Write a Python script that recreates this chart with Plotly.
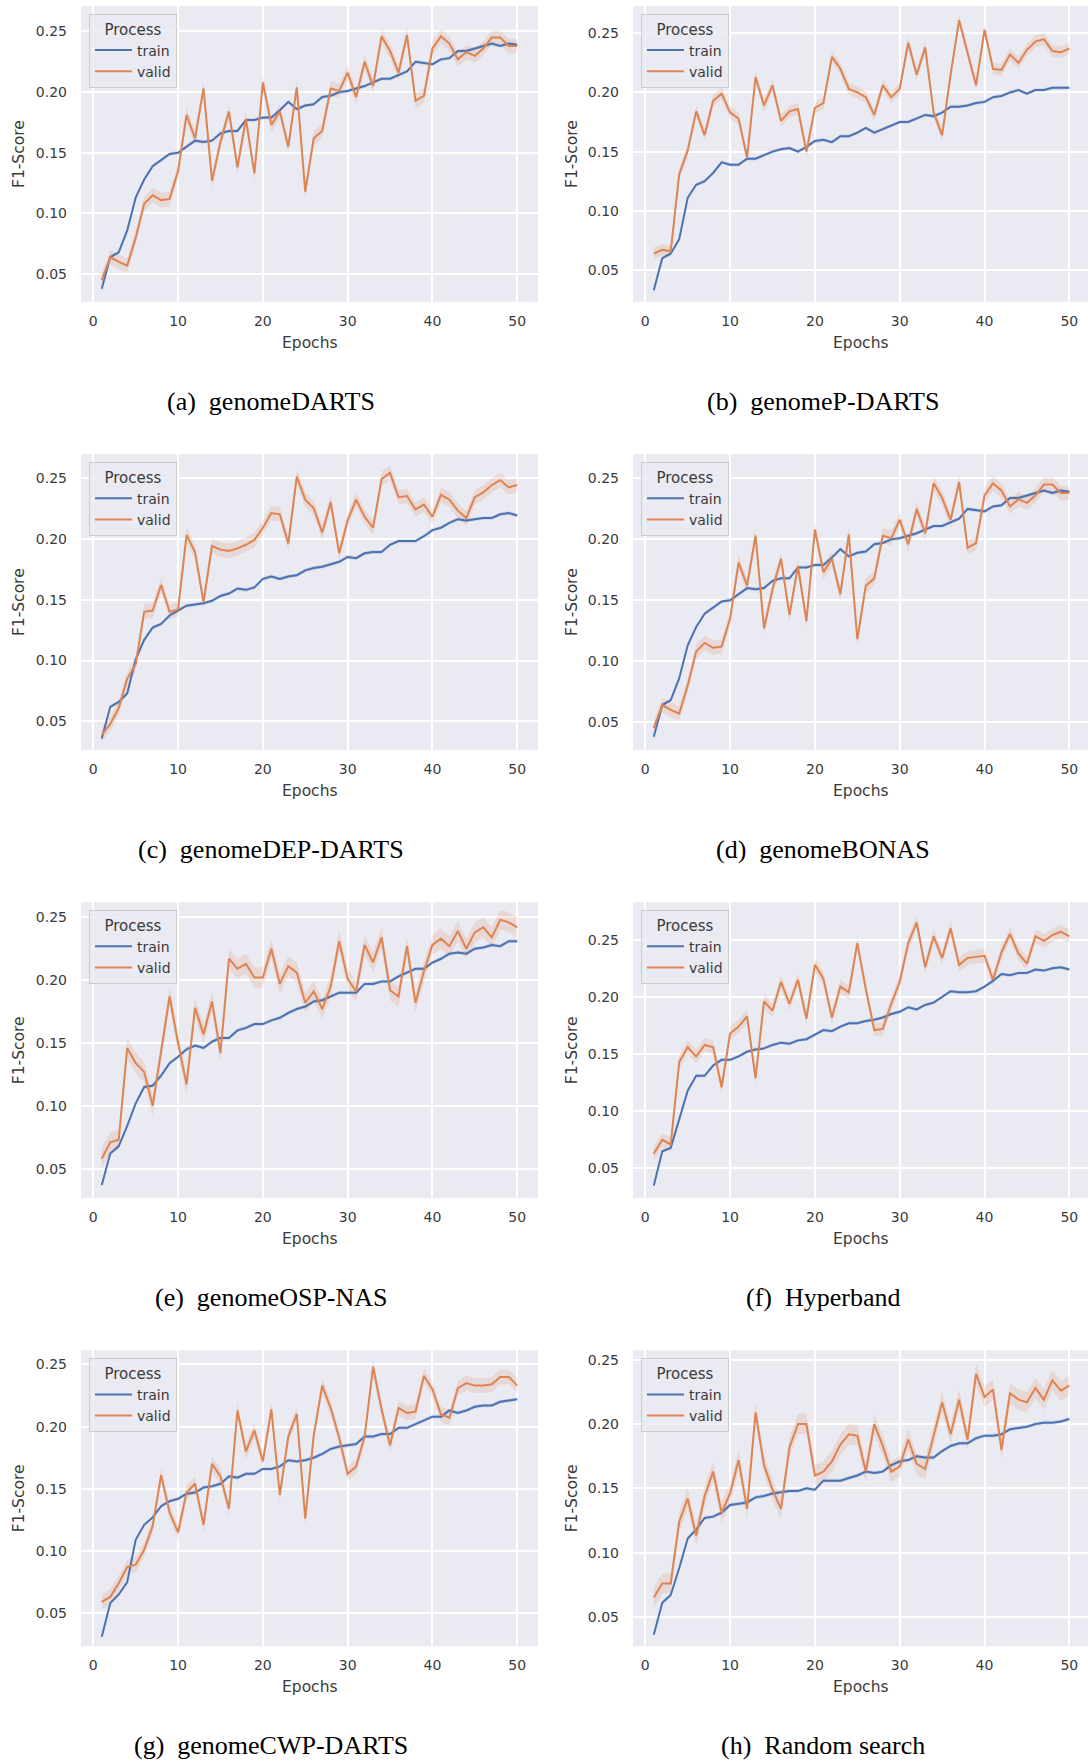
import plotly.graph_objects as go

# ---------------- data ----------------
epochs = list(range(1, 51))

captions = ["(a)\u2002genomeDARTS", "(b)\u2002genomeP-DARTS", "(c)\u2002genomeDEP-DARTS",
            "(d)\u2002genomeBONAS", "(e)\u2002genomeOSP-NAS", "(f)\u2002Hyperband",
            "(g)\u2002genomeCWP-DARTS", "(h)\u2002Random search"]

y_tick_vals = [0.05, 0.10, 0.15, 0.20, 0.25]
x_tick_vals = [0, 10, 20, 30, 40, 50]

train_a = [0.038, 0.064, 0.068, 0.086, 0.113, 0.128, 0.139, 0.144, 0.149, 0.150,
           0.155, 0.160, 0.159, 0.160, 0.166, 0.168, 0.168, 0.177, 0.177, 0.179,
           0.179, 0.185, 0.192, 0.186, 0.189, 0.190, 0.196, 0.197, 0.200, 0.201,
           0.203, 0.205, 0.208, 0.211, 0.211, 0.214, 0.217, 0.225, 0.224, 0.223,
           0.227, 0.228, 0.234, 0.234, 0.236, 0.238, 0.240, 0.238, 0.240, 0.239]
valid_a = [0.045, 0.064, 0.060, 0.057, 0.080, 0.108, 0.115, 0.111, 0.112, 0.135,
           0.181, 0.162, 0.203, 0.127, 0.159, 0.184, 0.138, 0.178, 0.133, 0.208,
           0.173, 0.184, 0.155, 0.204, 0.118, 0.162, 0.168, 0.203, 0.201, 0.216,
           0.196, 0.225, 0.205, 0.246, 0.234, 0.216, 0.247, 0.193, 0.197, 0.236,
           0.246, 0.240, 0.227, 0.233, 0.230, 0.236, 0.245, 0.245, 0.238, 0.238]

train_b = [0.033, 0.060, 0.064, 0.076, 0.111, 0.122, 0.125, 0.132, 0.141, 0.139,
           0.139, 0.144, 0.144, 0.147, 0.150, 0.152, 0.153, 0.150, 0.154, 0.159,
           0.160, 0.158, 0.163, 0.163, 0.166, 0.170, 0.166, 0.169, 0.172, 0.175,
           0.175, 0.178, 0.181, 0.180, 0.183, 0.188, 0.188, 0.189, 0.191, 0.192,
           0.196, 0.197, 0.200, 0.202, 0.199, 0.202, 0.202, 0.204, 0.204, 0.204]
valid_b = [0.064, 0.067, 0.066, 0.131, 0.151, 0.184, 0.164, 0.193, 0.199, 0.183,
           0.178, 0.145, 0.213, 0.189, 0.206, 0.176, 0.184, 0.186, 0.150, 0.187,
           0.191, 0.230, 0.220, 0.203, 0.200, 0.196, 0.181, 0.206, 0.196, 0.203,
           0.242, 0.215, 0.238, 0.183, 0.164, 0.215, 0.261, 0.233, 0.206, 0.253,
           0.220, 0.219, 0.232, 0.225, 0.236, 0.243, 0.245, 0.235, 0.234, 0.237]

train_c = [0.036, 0.062, 0.066, 0.073, 0.101, 0.117, 0.127, 0.130, 0.137, 0.141,
           0.145, 0.146, 0.147, 0.149, 0.153, 0.155, 0.159, 0.158, 0.160, 0.167,
           0.169, 0.167, 0.169, 0.170, 0.174, 0.176, 0.177, 0.179, 0.181, 0.185,
           0.184, 0.188, 0.189, 0.189, 0.195, 0.198, 0.198, 0.198, 0.202, 0.207,
           0.209, 0.213, 0.216, 0.215, 0.216, 0.217, 0.217, 0.220, 0.221, 0.219]
valid_c = [0.039, 0.048, 0.061, 0.085, 0.097, 0.140, 0.141, 0.162, 0.140, 0.142,
           0.203, 0.189, 0.148, 0.194, 0.191, 0.190, 0.192, 0.195, 0.199, 0.209,
           0.221, 0.220, 0.196, 0.251, 0.232, 0.225, 0.205, 0.230, 0.188, 0.215,
           0.232, 0.218, 0.209, 0.249, 0.254, 0.234, 0.235, 0.224, 0.228, 0.218,
           0.236, 0.232, 0.223, 0.217, 0.234, 0.238, 0.244, 0.248, 0.242, 0.244]

train_d = [0.038, 0.064, 0.068, 0.086, 0.113, 0.128, 0.139, 0.144, 0.149, 0.150,
           0.155, 0.160, 0.159, 0.160, 0.166, 0.168, 0.168, 0.177, 0.177, 0.179,
           0.179, 0.185, 0.192, 0.186, 0.189, 0.190, 0.196, 0.197, 0.200, 0.201,
           0.203, 0.205, 0.208, 0.211, 0.211, 0.214, 0.217, 0.225, 0.224, 0.223,
           0.227, 0.228, 0.234, 0.234, 0.236, 0.238, 0.240, 0.238, 0.240, 0.239]
valid_d = [0.045, 0.064, 0.060, 0.057, 0.080, 0.108, 0.115, 0.111, 0.112, 0.135,
           0.181, 0.162, 0.203, 0.127, 0.159, 0.184, 0.138, 0.178, 0.133, 0.208,
           0.173, 0.184, 0.155, 0.204, 0.118, 0.162, 0.168, 0.203, 0.201, 0.216,
           0.196, 0.225, 0.205, 0.246, 0.234, 0.216, 0.247, 0.193, 0.197, 0.236,
           0.246, 0.240, 0.227, 0.233, 0.230, 0.236, 0.245, 0.245, 0.238, 0.238]

train_e = [0.037, 0.062, 0.068, 0.084, 0.102, 0.115, 0.116, 0.124, 0.134, 0.139,
           0.145, 0.148, 0.146, 0.151, 0.154, 0.154, 0.160, 0.162, 0.165, 0.165,
           0.168, 0.170, 0.174, 0.177, 0.179, 0.183, 0.184, 0.187, 0.190, 0.190,
           0.190, 0.197, 0.197, 0.199, 0.199, 0.203, 0.206, 0.209, 0.209, 0.214,
           0.217, 0.221, 0.222, 0.221, 0.225, 0.226, 0.228, 0.227, 0.231, 0.231]
valid_e = [0.058, 0.071, 0.073, 0.146, 0.134, 0.127, 0.100, 0.143, 0.187, 0.150,
           0.117, 0.178, 0.157, 0.183, 0.142, 0.217, 0.209, 0.213, 0.202, 0.202,
           0.225, 0.197, 0.211, 0.206, 0.182, 0.191, 0.177, 0.195, 0.231, 0.201,
           0.191, 0.228, 0.214, 0.234, 0.192, 0.187, 0.227, 0.182, 0.207, 0.228,
           0.233, 0.227, 0.239, 0.225, 0.238, 0.242, 0.234, 0.248, 0.246, 0.242]

train_f = [0.035, 0.065, 0.068, 0.092, 0.118, 0.131, 0.131, 0.140, 0.145, 0.145,
           0.148, 0.152, 0.154, 0.155, 0.158, 0.160, 0.159, 0.162, 0.163, 0.167,
           0.171, 0.170, 0.174, 0.177, 0.177, 0.179, 0.180, 0.182, 0.185, 0.187,
           0.191, 0.189, 0.193, 0.195, 0.200, 0.205, 0.204, 0.204, 0.205, 0.209,
           0.214, 0.220, 0.219, 0.221, 0.221, 0.224, 0.223, 0.225, 0.226, 0.224]
valid_f = [0.063, 0.075, 0.071, 0.143, 0.156, 0.148, 0.158, 0.156, 0.121, 0.168,
           0.174, 0.183, 0.129, 0.196, 0.188, 0.213, 0.194, 0.215, 0.181, 0.228,
           0.216, 0.182, 0.209, 0.204, 0.247, 0.207, 0.171, 0.172, 0.194, 0.213,
           0.247, 0.265, 0.226, 0.253, 0.234, 0.260, 0.228, 0.234, 0.235, 0.236,
           0.215, 0.239, 0.255, 0.238, 0.229, 0.253, 0.249, 0.254, 0.257, 0.253]

train_g = [0.031, 0.058, 0.065, 0.075, 0.109, 0.121, 0.127, 0.136, 0.140, 0.142,
           0.146, 0.147, 0.151, 0.152, 0.154, 0.160, 0.159, 0.162, 0.162, 0.166,
           0.166, 0.168, 0.173, 0.172, 0.173, 0.175, 0.178, 0.182, 0.184, 0.185,
           0.186, 0.192, 0.192, 0.194, 0.194, 0.199, 0.199, 0.202, 0.205, 0.208,
           0.208, 0.213, 0.211, 0.213, 0.216, 0.217, 0.217, 0.220, 0.221, 0.222]
valid_g = [0.059, 0.063, 0.074, 0.087, 0.089, 0.101, 0.120, 0.161, 0.131, 0.115,
           0.147, 0.154, 0.121, 0.170, 0.160, 0.134, 0.213, 0.180, 0.197, 0.172,
           0.214, 0.145, 0.192, 0.210, 0.126, 0.193, 0.233, 0.215, 0.191, 0.162,
           0.168, 0.192, 0.248, 0.214, 0.185, 0.215, 0.211, 0.212, 0.241, 0.230,
           0.210, 0.207, 0.231, 0.235, 0.233, 0.233, 0.234, 0.240, 0.240, 0.233]

train_h = [0.036, 0.061, 0.067, 0.088, 0.111, 0.118, 0.127, 0.128, 0.131, 0.137,
           0.138, 0.139, 0.143, 0.144, 0.146, 0.147, 0.148, 0.148, 0.150, 0.149,
           0.156, 0.156, 0.156, 0.158, 0.160, 0.163, 0.162, 0.163, 0.168, 0.171,
           0.172, 0.175, 0.174, 0.174, 0.179, 0.183, 0.185, 0.185, 0.189, 0.191,
           0.191, 0.192, 0.196, 0.197, 0.198, 0.200, 0.201, 0.201, 0.202, 0.204]
valid_h = [0.065, 0.076, 0.076, 0.124, 0.142, 0.113, 0.144, 0.163, 0.131, 0.146,
           0.172, 0.134, 0.209, 0.168, 0.149, 0.134, 0.182, 0.200, 0.200, 0.160,
           0.163, 0.171, 0.184, 0.192, 0.191, 0.163, 0.200, 0.183, 0.163, 0.167,
           0.188, 0.169, 0.165, 0.190, 0.217, 0.192, 0.219, 0.188, 0.239, 0.221,
           0.227, 0.180, 0.224, 0.219, 0.217, 0.228, 0.219, 0.234, 0.226, 0.230]

# estimated half-width of the shaded confidence band for each panel
valid_ci = [0.006, 0.005, 0.006, 0.006, 0.008, 0.006, 0.006, 0.008]
train_ci = [0.0015, 0.0015, 0.0015, 0.0015, 0.0015, 0.0015, 0.0015, 0.0015]

# y-axis ranges per panel (as auto-scaled in the original)
y_ranges = [[0.027, 0.271], [0.023, 0.273], [0.0265, 0.2694], [0.027, 0.270],
            [0.0265, 0.262], [0.024, 0.2828], [0.0233, 0.2614], [0.0271, 0.2574]]

trains = [train_a, train_b, train_c, train_d, train_e, train_f, train_g, train_h]
valids = [valid_a, valid_b, valid_c, valid_d, valid_e, valid_f, valid_g, valid_h]

# ---------------- styling / layout ----------------
W, H = 1088, 1762
BLUE = "#4C72B0"
ORANGE = "#DD8452"
BG = "#EAEAF2"
TXT = "#3a3a3a"
FONT = "DejaVu Sans"

col_px = [(81, 538), (633, 1088)]
col_xrange = [[-1.45, 52.45], [-1.45, 52.2]]
ROW_PITCH = 448.1
row_top = [6 + r * ROW_PITCH for r in range(4)]
PLOT_H = 296
caption_x = [271, 823]
ylabel_x = [19, 572]
legend_x = [89, 641]

fig = go.Figure()
layout = dict(width=W, height=H, margin=dict(l=0, r=0, t=0, b=0),
              paper_bgcolor="white", plot_bgcolor=BG, showlegend=True,
              font=dict(family=FONT, color=TXT))
annotations = []

for i in range(8):
    r, c = divmod(i, 2)
    k = "" if i == 0 else str(i + 1)
    xa, ya = "x" + k, "y" + k
    leg = "legend" + k
    top = row_top[r]
    bot = top + PLOT_H
    x0, x1 = col_px[c]

    tr, va = trains[i], valids[i]
    # confidence bands
    for ser, ci, col in ((tr, train_ci[i], "rgba(76,114,176,0.2)"),
                         (va, valid_ci[i], "rgba(221,132,82,0.18)")):
        up = [v + ci for v in ser]
        lo = [v - ci for v in ser]
        fig.add_trace(go.Scatter(x=epochs + epochs[::-1], y=up + lo[::-1],
                                 fill="toself", fillcolor=col, line=dict(width=0),
                                 mode="lines", hoverinfo="skip", showlegend=False,
                                 xaxis=xa, yaxis=ya))
    fig.add_trace(go.Scatter(x=epochs, y=tr, mode="lines", name="train",
                             line=dict(color=BLUE, width=2), xaxis=xa, yaxis=ya,
                             legend=leg))
    fig.add_trace(go.Scatter(x=epochs, y=va, mode="lines", name="valid",
                             line=dict(color=ORANGE, width=2), xaxis=xa, yaxis=ya,
                             legend=leg))

    layout["xaxis" + k] = dict(domain=[x0 / W, x1 / W], anchor=ya,
                               range=col_xrange[c], tickvals=x_tick_vals,
                               showgrid=True, gridcolor="white", gridwidth=1.5,
                               zeroline=False, showline=False, ticks="",
                               ticklabelstandoff=9,
                               tickfont=dict(size=14, family=FONT, color=TXT))
    layout["yaxis" + k] = dict(domain=[1 - bot / H, 1 - top / H], anchor=xa,
                               range=y_ranges[i], tickvals=y_tick_vals,
                               tickformat=".2f",
                               showgrid=True, gridcolor="white", gridwidth=1.5,
                               zeroline=False, showline=False, ticks="",
                               ticklabelstandoff=13,
                               tickfont=dict(size=14, family=FONT, color=TXT))
    layout[leg] = dict(x=legend_x[c] / W, y=1 - (top + 8) / H,
                       xanchor="left", yanchor="top",
                       bgcolor="rgba(234,234,242,0.85)", bordercolor="#cccccc",
                       borderwidth=1,
                       title=dict(text="Process", side="top center",
                                  font=dict(size=15, family=FONT, color=TXT)),
                       font=dict(size=14, family=FONT, color=TXT),
                       tracegroupgap=0, itemwidth=37)

    annotations.append(dict(text="Epochs", xref="paper", yref="paper",
                            x=((x0 + min(x1, x0 + 457)) / 2) / W, y=1 - (bot + 41) / H,
                            showarrow=False, xanchor="center", yanchor="middle",
                            font=dict(size=15.5, family=FONT, color=TXT)))
    annotations.append(dict(text="F1-Score", xref="paper", yref="paper",
                            x=ylabel_x[c] / W, y=1 - ((top + bot) / 2) / H,
                            textangle=-90, showarrow=False,
                            xanchor="center", yanchor="middle",
                            font=dict(size=15.5, family=FONT, color=TXT)))
    annotations.append(dict(text=captions[i], xref="paper", yref="paper",
                            x=caption_x[c] / W, y=1 - (401.5 + r * ROW_PITCH) / H,
                            showarrow=False, xanchor="center", yanchor="middle",
                            font=dict(size=26, family="Liberation Serif", color="black")))

layout["annotations"] = annotations
fig.update_layout(**layout)

fig.write_html("out.html", config={"displayModeBar": False},
               post_script="document.body.style.margin='0px';")
